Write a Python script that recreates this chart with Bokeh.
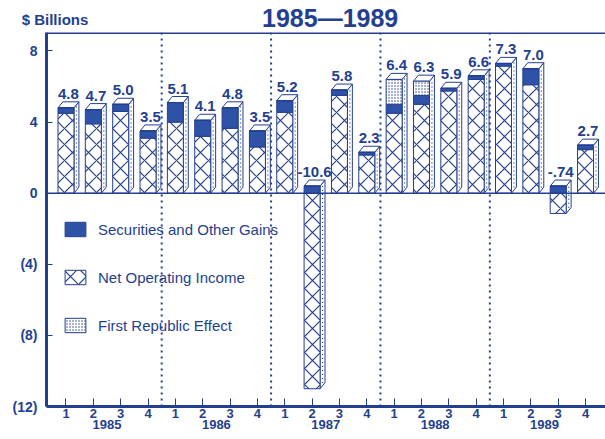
from bokeh.plotting import figure
from bokeh.models import (Range1d, FixedTicker, Span, LinearAxis,
                          Legend, LegendItem)
from bokeh.core.properties import value
from bokeh.embed import file_html
from bokeh.resources import INLINE

# ---------------- data ----------------
years = ["1985", "1986", "1987", "1988", "1989"]
quarters = ["1", "2", "3", "4"]
net_operating_income = [4.5, 3.9, 4.6, 3.1,
                        4.0, 3.2, 3.65, 2.6,
                        4.55, -11.0, 5.5, 2.15,
                        4.5, 5.0, 5.75, 6.4,
                        7.15, 6.1, -1.14, 2.45]
securities_gains = [0.3, 0.8, 0.4, 0.4,
                    1.1, 0.9, 1.15, 0.9,
                    0.65, 0.4, 0.3, 0.15,
                    0.5, 0.5, 0.15, 0.2,
                    0.15, 0.9, 0.4, 0.25]
first_republic = [0, 0, 0, 0,
                  0, 0, 0, 0,
                  0, 0, 0, 0,
                  1.4, 0.8, 0, 0,
                  0, 0, 0, 0]
value_labels = ["4.8", "4.7", "5.0", "3.5",
                "5.1", "4.1", "4.8", "3.5",
                "5.2", "-10.6", "5.8", "2.3",
                "6.4", "6.3", "5.9", "6.6",
                "7.3", "7.0", "-.74", "2.7"]
y_ticks = [-12, -8, -4, 0, 4, 8]
y_tick_labels = ["(12)", "(8)", "(4)", "0", "4", "8"]
title_text = "1985\u20141989"
unit_text = "$ Billions"

# ---------------- style ----------------
INK = "#243f8f"
DARK = "#2d52a6"
FONT = "Liberation Sans"
BAR_W = 0.585     # front face width (x units)
DX = 0.18         # 3D depth, x
DY = 0.34         # 3D depth, y

n = len(net_operating_income)
xs = [i + 1 for i in range(n)]

noi_top, noi_bot, sec_bot, sec_top, fr_bot, fr_top, pos_top, neg_bot = ([] for _ in range(8))
for noi, sec, fr in zip(net_operating_income, securities_gains, first_republic):
    noi_top.append(max(noi, 0)); noi_bot.append(min(noi, 0))
    sb = max(noi, 0)
    sec_bot.append(sb); sec_top.append(sb + sec)
    fr_bot.append(sb + sec); fr_top.append(sb + sec + fr)
    pos_top.append(sb + sec + fr); neg_bot.append(min(noi, 0))

side_xs, side_ys, top_xs, top_ys, dot_xs, dot_ys = [], [], [], [], [], []
for x, yt, yb in zip(xs, pos_top, neg_bot):
    xl, xr = x - BAR_W / 2, x + BAR_W / 2
    side_xs.append([xr, xr, xr + DX, xr + DX])
    side_ys.append([yb, yt, yt + DY, yb + DY])
    top_xs.append([xl, xr, xr + DX, xl + DX])
    top_ys.append([yt, yt, yt + DY, yt + DY])
    dot_xs.append([xr + DX / 2, xr + DX / 2])
    dot_ys.append([yb + DY / 2 + 0.15, yt + DY / 2 - 0.1])

p = figure(width=605, height=439,
           x_range=Range1d(0.287, 20.73), y_range=Range1d(-12, 9.04),
           output_backend="svg", toolbar_location=None,
           min_border_left=46, min_border_right=0,
           min_border_top=30, min_border_bottom=33,
           outline_line_color=None, background_fill_color="white")
p.grid.visible = False

# year separators
for k in range(1, len(years)):
    p.add_layout(Span(location=4 * k + 0.5, dimension="height",
                      line_color=INK, line_width=2, line_dash="2 4"))

# 3D faces
p.patches(side_xs, side_ys, fill_color="white", line_color=INK, line_width=1)
p.patches(top_xs, top_ys, fill_color="white", line_color=INK, line_width=1)
p.multi_line(dot_xs, dot_ys, line_color=INK, line_width=1.2, line_dash="1 3")

# front faces
noi_r = p.vbar(x=xs, width=BAR_W, top=noi_top, bottom=noi_bot,
               fill_color="white", line_color=INK, line_width=1,
               hatch_pattern="diagonal_cross", hatch_scale=16,
               hatch_color=INK, hatch_weight=1.2)
sec_r = p.vbar(x=xs, width=BAR_W, top=sec_top, bottom=sec_bot,
               fill_color=DARK, line_color=INK, line_width=1)
fr_r = p.vbar(x=xs, width=BAR_W, top=fr_top, bottom=fr_bot,
              fill_color="white", line_color=INK, line_width=1,
              hatch_pattern="dot", hatch_scale=3, hatch_color=INK,
              hatch_weight=1)

# value labels
p.text(x=[x + DX / 2 for x in xs], y=pos_top, text=value_labels,
       text_align="center", text_baseline="alphabetic", y_offset=-14,
       text_font=value(FONT), text_font_style="bold",
       text_font_size="15px", text_color=INK)

# zero line & top border
p.add_layout(Span(location=0, dimension="width", line_color=INK, line_width=1.5))
p.add_layout(Span(location=9.04, dimension="width", line_color=INK, line_width=3))


def style_axis(ax, size):
    ax.major_tick_line_color = INK
    ax.major_tick_out = 0
    ax.minor_tick_line_color = None
    ax.major_label_text_font = FONT
    ax.major_label_text_font_style = "bold"
    ax.major_label_text_font_size = size
    ax.major_label_text_color = INK


# main axes
p.yaxis.ticker = FixedTicker(ticks=y_ticks)
p.yaxis.major_label_overrides = dict(zip(y_ticks, y_tick_labels))
p.xaxis.ticker = FixedTicker(ticks=xs)
p.xaxis.major_label_overrides = {x: quarters[i % 4] for i, x in enumerate(xs)}
style_axis(p.yaxis, "14px")
style_axis(p.xaxis, "13px")
for ax in (p.xaxis, p.yaxis):
    ax.axis_line_color = INK
    ax.axis_line_width = 3
p.yaxis.major_tick_in = 6
p.yaxis.major_label_standoff = 9
p.xaxis.major_tick_in = 8
p.xaxis.major_label_standoff = 2

# year labels: second axis below quarters
year_pos = [4 * k + 2.5 for k in range(len(years))]
year_axis = LinearAxis(ticker=FixedTicker(ticks=year_pos),
                       major_label_overrides=dict(zip(year_pos, years)))
style_axis(year_axis, "13px")
year_axis.axis_line_color = None
year_axis.major_tick_line_color = None
year_axis.major_tick_in = 0
year_axis.major_label_standoff = -1
p.add_layout(year_axis, "below")

# unit and title texts: label-only axes above the frame
unit_pos = 0.598
unit_axis = LinearAxis(ticker=FixedTicker(ticks=[unit_pos]),
                       major_label_overrides={unit_pos: unit_text})
style_axis(unit_axis, "15px")
unit_axis.axis_line_color = None
unit_axis.major_tick_line_color = None
unit_axis.major_tick_in = 0
unit_axis.major_label_standoff = 5
p.add_layout(unit_axis, "above")

title_pos = 10.66
title_axis = LinearAxis(ticker=FixedTicker(ticks=[title_pos]),
                        major_label_overrides={title_pos: title_text})
style_axis(title_axis, "25px")
title_axis.axis_line_color = None
title_axis.major_tick_line_color = None
title_axis.major_tick_in = 0
title_axis.major_label_standoff = -24
p.add_layout(title_axis, "above")

# legend
legend = Legend(items=[LegendItem(label="Securities and Other Gains", renderers=[sec_r]),
                       LegendItem(label="Net Operating Income", renderers=[noi_r]),
                       LegendItem(label="First Republic Effect", renderers=[fr_r])],
                location=(16, 72), border_line_color=None, background_fill_alpha=0,
                glyph_width=26, glyph_height=18, spacing=30, padding=0, margin=0,
                label_standoff=10, label_text_font=FONT, label_text_font_size="15px",
                label_text_color=INK)
p.add_layout(legend)

open("out.html", "w").write(file_html(p, INLINE))
